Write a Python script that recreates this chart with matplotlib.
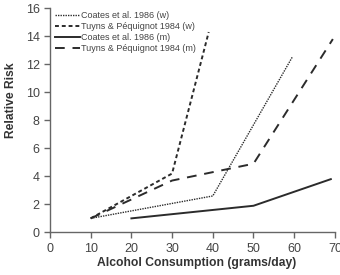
import matplotlib
matplotlib.use("Agg")
import matplotlib.pyplot as plt

plt.rcParams['font.family'] = ['Liberation Sans', 'DejaVu Sans']

# Relative risk vs alcohol consumption
coates_w_x = [10, 40, 59.5]
coates_w_y = [1.0, 2.6, 12.5]
tuyns_w_x = [10, 30, 39]
tuyns_w_y = [1.0, 4.2, 14.3]
coates_m_x = [20, 50, 69]
coates_m_y = [1.0, 1.9, 3.8]
tuyns_m_x = [10, 30, 50, 69.5]
tuyns_m_y = [1.0, 3.7, 4.9, 13.8]

labels = ['Coates et al. 1986 (w)', 'Tuyns & Péquignot 1984 (w)',
          'Coates et al. 1986 (m)', 'Tuyns & Péquignot 1984 (m)']

fig = plt.figure(figsize=(3.4, 2.75), dpi=100)
ax = fig.add_axes([0.147, 0.155, 0.838, 0.815])

c = '#2b2b2b'
ax.plot(coates_w_x, coates_w_y, color=c, lw=1.0, linestyle=(0, (1, 0.8)), label=labels[0])
ax.plot(tuyns_w_x, tuyns_w_y, color=c, lw=1.4, linestyle=(0, (2, 1.5)), label=labels[1])
ax.plot(coates_m_x, coates_m_y, color=c, lw=1.4, linestyle='-', label=labels[2])
ax.plot(tuyns_m_x, tuyns_m_y, color=c, lw=1.4, linestyle=(0, (5, 4)), label=labels[3])

ax.set_xlim(0, 70)
ax.set_ylim(0, 16)
ax.set_xticks(range(0, 71, 10))
ax.set_yticks(range(0, 17, 2))
for s in ['top', 'right']:
    ax.spines[s].set_visible(False)
for s in ['left', 'bottom']:
    ax.spines[s].set_color('#666666')
    ax.spines[s].set_linewidth(1.0)
ax.tick_params(colors='#666666', labelcolor='#444444', labelsize=9, length=4, width=1.0)

ax.set_xlabel('Alcohol Consumption (grams/day)', fontsize=8.7, fontweight='bold', color='#333333')
ax.set_ylabel('Relative Risk', fontsize=8.7, fontweight='bold', color='#333333')
ax.yaxis.set_label_coords(-0.115, 0.59)
ax.xaxis.set_label_coords(0.515, -0.11)

leg = ax.legend(loc='upper left', bbox_to_anchor=(0.0, 1.01), frameon=False,
                fontsize=6.5, handlelength=2.7, handletextpad=0.15,
                labelspacing=0.2, borderaxespad=0.2, labelcolor='#444444')

fig.savefig('out.png', dpi=100)
